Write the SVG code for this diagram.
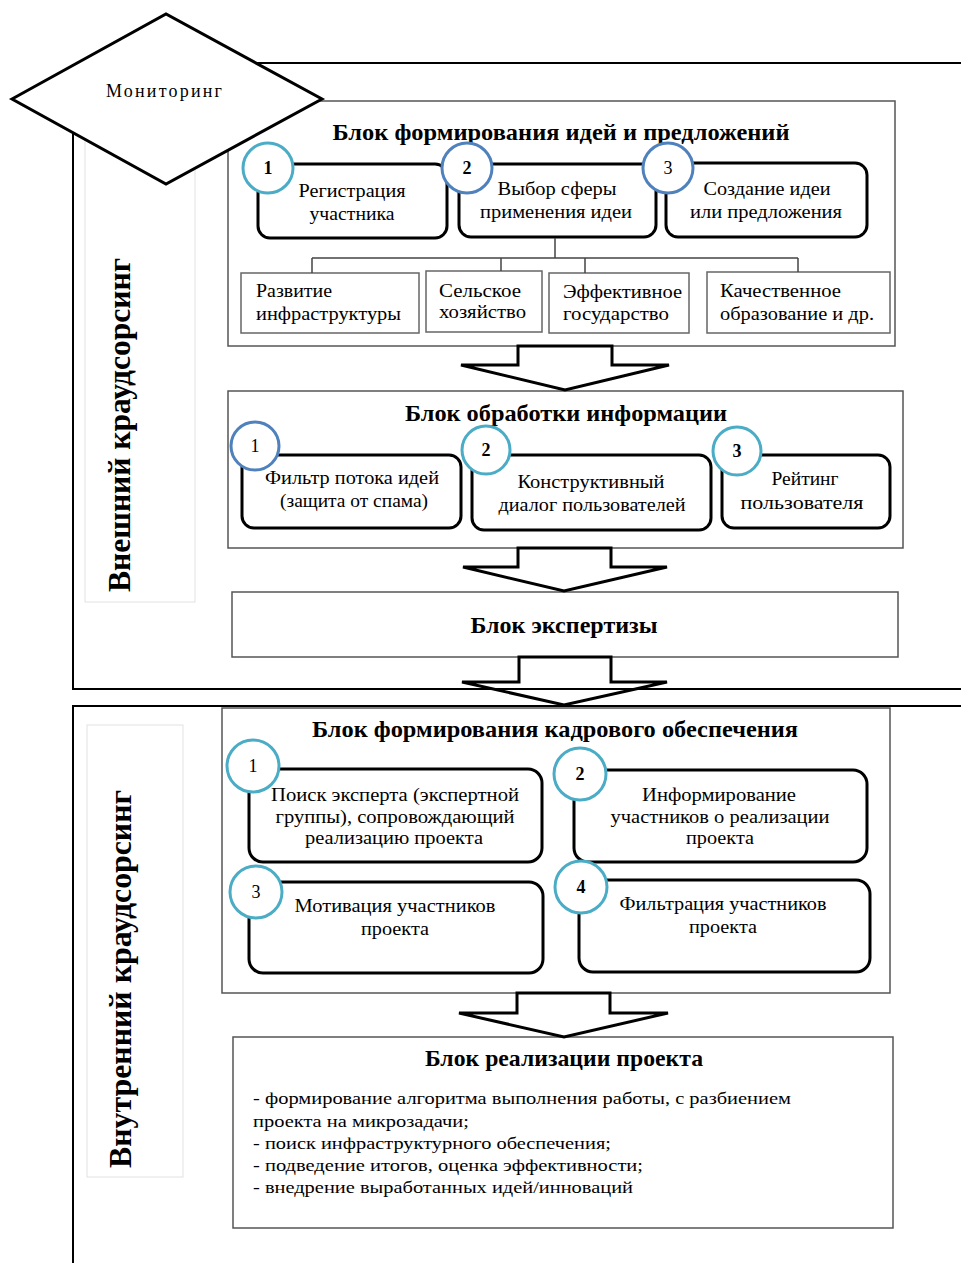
<svg xmlns="http://www.w3.org/2000/svg" width="961" height="1263" viewBox="0 0 961 1263">
<style>
.frame{fill:none;stroke:#000;stroke-width:2}
.lbl{fill:#fff;stroke:#e2e2e2;stroke-width:1}
.block{fill:#fff;stroke:#555;stroke-width:1.5}
.sub{fill:#fff;stroke:#666;stroke-width:1.5}
.rbox{fill:#fff;stroke:#000;stroke-width:3}
.teal{fill:#fff;stroke:#4BACC6;stroke-width:3}
.blue{fill:#fff;stroke:#4F81BD;stroke-width:3}
.arrow{fill:none;stroke:#000;stroke-width:3;stroke-linejoin:miter}
.tree{fill:none;stroke:#444;stroke-width:1.5}
text{font-family:"Liberation Serif","Times New Roman",serif;fill:#000}
.t{font-size:18px;text-anchor:middle}
.tl{font-size:18px;text-anchor:start}
.bl{font-size:17px;text-anchor:start}
.title{font-size:24px;font-weight:bold;text-anchor:middle}
.vt{font-size:32px;font-weight:bold;text-anchor:middle}
.num{font-size:18px;text-anchor:middle}
.b{font-weight:bold}
</style>

<g id="frame-external">
<path class="frame" d="M250,63 H995 V689 H73 V130"/>
<rect class="lbl" x="85" y="70" width="110" height="532"/>
<text class="vt" transform="translate(130,425) rotate(-90)" textLength="334" lengthAdjust="spacingAndGlyphs">Внешний краудсорсинг</text>
</g>

<g id="frame-internal">
<polyline class="frame" points="73,1263 73,706 961,706"/>
<rect class="lbl" x="87" y="725" width="96" height="452"/>
<text class="vt" transform="translate(131,979) rotate(-90)" textLength="378" lengthAdjust="spacingAndGlyphs">Внутренний краудсорсинг</text>
</g>

<g id="block-ideas">
<rect class="block" x="228" y="101" width="667" height="245"/>
<text class="title" x="561" y="140" textLength="457" lengthAdjust="spacingAndGlyphs">Блок формирования идей и предложений</text>
<g id="idea-1">
<rect class="rbox" x="258" y="164" width="189" height="74" rx="12"/>
<text class="t" x="352" y="197" textLength="107" lengthAdjust="spacingAndGlyphs">Регистрация</text>
<text class="t" x="352" y="220" textLength="85" lengthAdjust="spacingAndGlyphs">участника</text>
<circle class="teal" cx="268" cy="168" r="25"/>
<text class="num b" x="268" y="174">1</text>
</g>
<g id="idea-2">
<rect class="rbox" x="459" y="164" width="197" height="73" rx="12"/>
<text class="t" x="557" y="195" textLength="119" lengthAdjust="spacingAndGlyphs">Выбор сферы</text>
<text class="t" x="556" y="218" textLength="152" lengthAdjust="spacingAndGlyphs">применения идеи</text>
<circle class="blue" cx="467" cy="168" r="25"/>
<text class="num b" x="467" y="174">2</text>
</g>
<g id="idea-3">
<rect class="rbox" x="666" y="163" width="201" height="74" rx="12"/>
<text class="t" x="767" y="195" textLength="127" lengthAdjust="spacingAndGlyphs">Создание идеи</text>
<text class="t" x="766" y="218" textLength="152" lengthAdjust="spacingAndGlyphs">или предложения</text>
<circle class="blue" cx="668" cy="168" r="25"/>
<text class="num" x="668" y="174">3</text>
</g>
<g id="sphere-1">
<rect class="sub" x="241" y="273" width="178" height="60"/>
<text class="tl" x="256" y="297" textLength="76" lengthAdjust="spacingAndGlyphs">Развитие</text>
<text class="tl" x="256" y="320" textLength="145" lengthAdjust="spacingAndGlyphs">инфраструктуры</text>
</g>
<g id="sphere-2">
<rect class="sub" x="426" y="271" width="116" height="61"/>
<text class="tl" x="439" y="297" textLength="82" lengthAdjust="spacingAndGlyphs">Сельское</text>
<text class="tl" x="439" y="318" textLength="87" lengthAdjust="spacingAndGlyphs">хозяйство</text>
</g>
<g id="sphere-3">
<rect class="sub" x="549" y="273" width="140" height="60"/>
<text class="tl" x="563" y="298" textLength="119" lengthAdjust="spacingAndGlyphs">Эффективное</text>
<text class="tl" x="563" y="320" textLength="106" lengthAdjust="spacingAndGlyphs">государство</text>
</g>
<g id="sphere-4">
<rect class="sub" x="707" y="272" width="183" height="61"/>
<text class="tl" x="720" y="297" textLength="121" lengthAdjust="spacingAndGlyphs">Качественное</text>
<text class="tl" x="720" y="320" textLength="154" lengthAdjust="spacingAndGlyphs">образование и др.</text>
</g>
</g>

<g id="block-processing">
<rect class="block" x="228" y="391" width="675" height="157"/>
<text class="title" x="566" y="421" textLength="322" lengthAdjust="spacingAndGlyphs">Блок обработки информации</text>
<g id="proc-1">
<rect class="rbox" x="242" y="455" width="219" height="73" rx="12"/>
<text class="t" x="352" y="484" textLength="174" lengthAdjust="spacingAndGlyphs">Фильтр потока идей</text>
<text class="t" x="354" y="507" textLength="148" lengthAdjust="spacingAndGlyphs">(защита от спама)</text>
<circle class="blue" cx="255" cy="446" r="24"/>
<text class="num" x="255" y="452">1</text>
</g>
<g id="proc-2">
<rect class="rbox" x="472" y="455" width="239" height="75" rx="12"/>
<text class="t" x="591" y="488" textLength="147" lengthAdjust="spacingAndGlyphs">Конструктивный</text>
<text class="t" x="592" y="511" textLength="187" lengthAdjust="spacingAndGlyphs">диалог пользователей</text>
<circle class="teal" cx="486" cy="450" r="24"/>
<text class="num b" x="486" y="456">2</text>
</g>
<g id="proc-3">
<rect class="rbox" x="722" y="455" width="168" height="73" rx="12"/>
<text class="t" x="805" y="485" textLength="67" lengthAdjust="spacingAndGlyphs">Рейтинг</text>
<text class="t" x="802" y="509" textLength="123" lengthAdjust="spacingAndGlyphs">пользователя</text>
<circle class="teal" cx="737" cy="451" r="24"/>
<text class="num b" x="737" y="457">3</text>
</g>
</g>

<g id="block-expertise">
<rect class="block" x="232" y="592" width="666" height="65"/>
<text class="title" x="564" y="633" textLength="187" lengthAdjust="spacingAndGlyphs">Блок экспертизы</text>
</g>

<g id="block-staffing">
<rect class="block" x="222" y="708" width="668" height="285"/>
<text class="title" x="555" y="737" textLength="486" lengthAdjust="spacingAndGlyphs">Блок формирования кадрового обеспечения</text>
<g id="staff-1">
<rect class="rbox" x="249" y="769" width="293" height="93" rx="14"/>
<text class="t" x="395" y="801" textLength="248" lengthAdjust="spacingAndGlyphs">Поиск эксперта (экспертной</text>
<text class="t" x="395" y="823" textLength="239" lengthAdjust="spacingAndGlyphs">группы), сопровождающий</text>
<text class="t" x="394" y="844" textLength="178" lengthAdjust="spacingAndGlyphs">реализацию проекта</text>
<circle class="teal" cx="253" cy="766" r="26"/>
<text class="num" x="253" y="772">1</text>
</g>
<g id="staff-2">
<rect class="rbox" x="574" y="770" width="293" height="92" rx="14"/>
<text class="t" x="719" y="801" textLength="154" lengthAdjust="spacingAndGlyphs">Информирование</text>
<text class="t" x="720" y="823" textLength="219" lengthAdjust="spacingAndGlyphs">участников о реализации</text>
<text class="t" x="720" y="844" textLength="68" lengthAdjust="spacingAndGlyphs">проекта</text>
<circle class="teal" cx="580" cy="774" r="26"/>
<text class="num b" x="580" y="780">2</text>
</g>
<g id="staff-3">
<rect class="rbox" x="249" y="882" width="294" height="91" rx="14"/>
<text class="t" x="395" y="912" textLength="201" lengthAdjust="spacingAndGlyphs">Мотивация участников</text>
<text class="t" x="395" y="935" textLength="68" lengthAdjust="spacingAndGlyphs">проекта</text>
<circle class="teal" cx="256" cy="892" r="26"/>
<text class="num" x="256" y="898">3</text>
</g>
<g id="staff-4">
<rect class="rbox" x="579" y="880" width="291" height="92" rx="14"/>
<text class="t" x="723" y="910" textLength="207" lengthAdjust="spacingAndGlyphs">Фильтрация участников</text>
<text class="t" x="723" y="933" textLength="68" lengthAdjust="spacingAndGlyphs">проекта</text>
<circle class="teal" cx="581" cy="887" r="26"/>
<text class="num b" x="581" y="893">4</text>
</g>
</g>

<g id="block-implementation">
<rect class="block" x="233" y="1037" width="660" height="191"/>
<text class="title" x="564" y="1066" textLength="278" lengthAdjust="spacingAndGlyphs">Блок реализации проекта</text>
<text class="bl" x="253" y="1104" textLength="538" lengthAdjust="spacingAndGlyphs">- формирование алгоритма выполнения работы, с разбиением</text>
<text class="bl" x="253" y="1127" textLength="216" lengthAdjust="spacingAndGlyphs">проекта на микрозадачи;</text>
<text class="bl" x="253" y="1149" textLength="358" lengthAdjust="spacingAndGlyphs">- поиск инфраструктурного обеспечения;</text>
<text class="bl" x="253" y="1171" textLength="390" lengthAdjust="spacingAndGlyphs">- подведение итогов, оценка эффективности;</text>
<text class="bl" x="253" y="1193" textLength="380" lengthAdjust="spacingAndGlyphs">- внедрение выработанных идей/инноваций</text>
</g>

<g id="connectors">
<path class="tree" d="M555,238 V258 M312,258 H798 M312,258 V273 M501,258 V271 M585,258 V273 M798,258 V272"/>
<polygon class="arrow" points="518,346 518,365 461,365 565,390 669,365 612,365 612,346"/>
<polygon class="arrow" points="518,548 518,567 463,567 564,591 667,567 611,567 611,548"/>
<polygon class="arrow" points="519,657 519,682 462,682 564,705 667,682 611,682 611,657"/>
<polygon class="arrow" points="517,993 517,1013 459,1013 564,1037 668,1013 610,1013 610,993"/>
</g>

<g id="monitoring">
<polygon points="12,99 166,14 322,99 166,184" fill="#fff" stroke="#000" stroke-width="3" stroke-linejoin="miter"/>
<text class="t" x="164" y="97" textLength="116" lengthAdjust="spacing">Мониторинг</text>
</g>
</svg>
